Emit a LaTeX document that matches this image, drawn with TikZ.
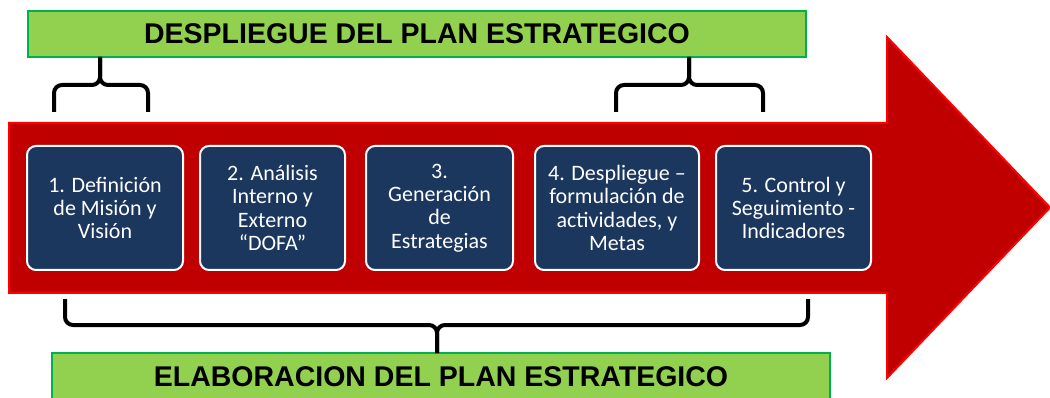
\documentclass[tikz,border=0pt]{standalone}
\usepackage{fontspec}
\newfontfamily\boxfont{Carlito}
\newfontfamily\titlefont{Liberation Sans}
\definecolor{arrowred}{HTML}{C00000}
\definecolor{edgered}{HTML}{FF0000}
\definecolor{navy}{HTML}{1B375E}
\definecolor{lgreen}{HTML}{92D050}
\definecolor{dgreen}{HTML}{00B050}
\tikzset{
 stepbox/.style={draw=white, line width=2pt, fill=navy, rounded corners=9pt, minimum height=124pt, inner sep=0pt, text=white, font=\boxfont\fontsize{22}{23.3}\selectfont, align=center},
 banner/.style={draw=dgreen, line width=1.2pt, fill=lgreen, inner sep=0pt, font=\titlefont\bfseries\fontsize{28.5}{30}\selectfont},
 bracket/.style={line width=4pt, rounded corners=8pt, line cap=butt},
}
\begin{document}
\begin{tikzpicture}[x=1pt,y=-1pt]
\useasboundingbox (0,0) rectangle (1050,398);
% big arrow
\draw[fill=arrowred, draw=edgered, line width=2pt, line join=miter]
  (9,123) -- (887,123) -- (887,37) -- (1050,207.5) -- (887,378) -- (887,293) -- (9,293) -- cycle;
% steps
\node[stepbox, minimum width=156pt] (s1) at (105,208) {1. Definición\\de Misión y\\Visión};
\node[stepbox, minimum width=145pt] (s2) at (272.5,208) {2. Análisis\\Interno y\\Externo\\“DOFA”};
\node[stepbox, minimum width=147pt] (s3) at (439.5,208) {3.\\Generación\\de\\Estrategias};
\node[stepbox, minimum width=164pt] (s4) at (617,208) {4. Despliegue –\\formulación de\\actividades, y\\Metas};
\node[stepbox, minimum width=155pt] (s5) at (793.5,208) {5. Control y\\Seguimiento -\\Indicadores};
% banners
\node[banner, minimum width=778pt, minimum height=46pt] (top) at (417,34) {DESPLIEGUE DEL PLAN ESTRATEGICO};
\node[banner, minimum width=778pt, minimum height=48pt] (bot) at (441,377) {ELABORACION DEL PLAN ESTRATEGICO};
% brace coordinates
\coordinate (ta) at (100,57);
\coordinate (tb) at (689,57);
\coordinate (ba) at (437,353);
% top-left brace
\draw[bracket] (54,112) -- (54,85) -- (100,85) -- (ta);
\draw[bracket] (148,112) -- (148,85) -- (100,85) -- (ta);
% top-right brace
\draw[bracket] (616,112) -- (616,85) -- (689,85) -- (tb);
\draw[bracket] (763,112) -- (763,85) -- (689,85) -- (tb);
% bottom brace
\draw[bracket] (65,299) -- (65,325) -- (437,325) -- (ba);
\draw[bracket] (808,299) -- (808,325) -- (437,325) -- (ba);
\end{tikzpicture}
\end{document}
